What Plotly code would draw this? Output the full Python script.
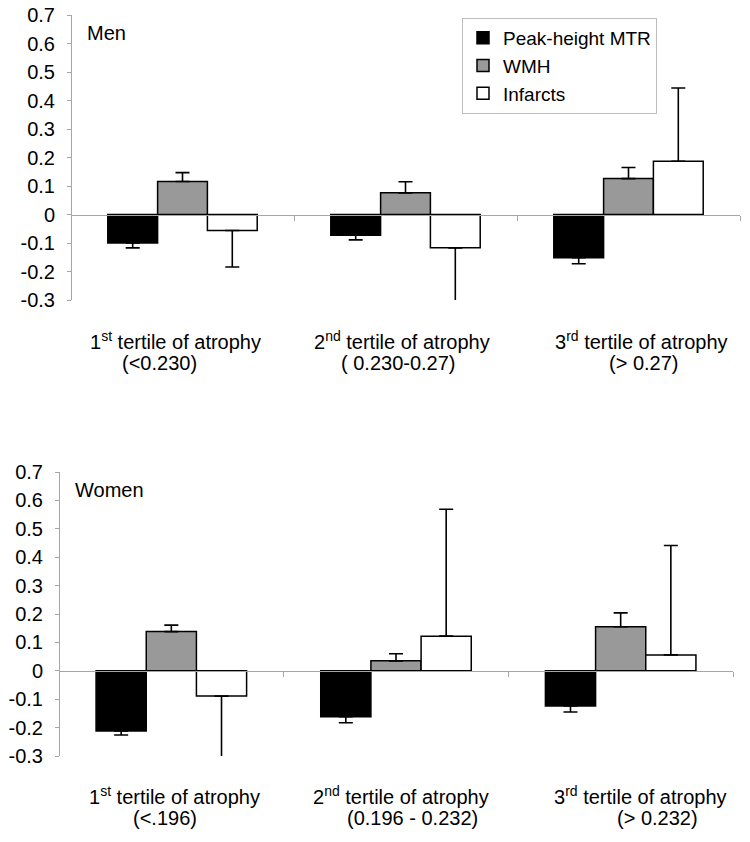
import plotly.graph_objects as go

W, H = 750, 842

# ---------------- data ----------------
series_names = ["Peak-height MTR", "WMH", "Infarcts"]
series_colors = ["#000000", "#999999", "#ffffff"]

cat_line1 = ["1<sup>st</sup> tertile of atrophy",
             "2<sup>nd</sup> tertile of atrophy",
             "3<sup>rd</sup> tertile of atrophy"]
men_ranges = ["(<0.230)", "( 0.230-0.27)", "(> 0.27)"]
women_ranges = ["(<.196)", "(0.196 - 0.232)", "(> 0.232)"]

men_mtr = [-0.100, -0.073, -0.152]
men_mtr_err = [0.017, 0.016, 0.021]
men_wmh = [0.116, 0.076, 0.126]
men_wmh_err = [0.031, 0.039, 0.039]
men_inf = [-0.056, -0.117, 0.187]
men_inf_err = [0.128, 0.199, 0.257]

women_mtr = [-0.212, -0.162, -0.124]
women_mtr_err = [0.014, 0.021, 0.021]
women_wmh = [0.138, 0.035, 0.155]
women_wmh_err = [0.023, 0.025, 0.049]
women_inf = [-0.089, 0.122, 0.056]
women_inf_err = [0.219, 0.447, 0.385]

yticks = [-0.3, -0.2, -0.1, 0, 0.1, 0.2, 0.3, 0.4, 0.5, 0.6, 0.7]
ytick_text = ["-0.3", "-0.2", "-0.1", "0", "0.1", "0.2", "0.3", "0.4", "0.5", "0.6", "0.7"]

FONT = "Liberation Sans, Arial, sans-serif"
FS = 20
LFS = 19

fig = go.Figure()

panels = [
    dict(xa="x", ya="y", vals=[men_mtr, men_wmh, men_inf],
         errs=[men_mtr_err, men_wmh_err, men_inf_err], legend=True),
    dict(xa="x2", ya="y2", vals=[women_mtr, women_wmh, women_inf],
         errs=[women_mtr_err, women_wmh_err, women_inf_err], legend=False),
]

xpos = list(range(len(cat_line1)))

for p in panels:
    for k in range(3):
        v = p["vals"][k]
        e = p["errs"][k]
        plus = [ee if vv >= 0 else 0 for vv, ee in zip(v, e)]
        minus = [ee if vv < 0 else 0 for vv, ee in zip(v, e)]
        fig.add_trace(go.Bar(
            x=xpos, y=v, name=series_names[k],
            xaxis=p["xa"], yaxis=p["ya"],
            marker=dict(color=series_colors[k], line=dict(color="#000000", width=1.5)),
            error_y=dict(type="data", symmetric=False, array=plus, arrayminus=minus,
                         color="#000000", thickness=1.6, width=7),
            showlegend=p["legend"], legendgroup=series_names[k],
        ))

def py(px):
    return 1 - px / H

top_dom_y = [py(300), py(15)]
bot_dom_y = [py(756), py(472)]
top_dom_x = [71 / W, 740 / W]
bot_dom_x = [59 / W, 733 / W]
yr = [-0.3, 0.7]

def zero_pos(dom):
    return dom[0] + (0 - yr[0]) / (yr[1] - yr[0]) * (dom[1] - dom[0])

axis_gray = "#a6a6a6"

def xaxis(dom_x, dom_y):
    return dict(domain=dom_x, range=[-0.5, 2.5], anchor="free", position=zero_pos(dom_y),
                showline=True, linecolor=axis_gray, linewidth=1,
                tickmode="array", tickvals=[0.5, 1.5, 2.5], ticks="outside",
                ticklen=5, tickcolor=axis_gray, showticklabels=False,
                showgrid=False, zeroline=False, fixedrange=True, automargin=False)

def yaxis(dom_x, dom_y):
    return dict(domain=dom_y, range=yr, anchor="free", position=dom_x[0],
                showline=True, linecolor=axis_gray, linewidth=1,
                tickmode="array", tickvals=yticks, ticktext=ytick_text,
                ticks="outside", ticklen=4, tickcolor=axis_gray,
                ticklabelstandoff=8,
                tickfont=dict(family=FONT, size=FS, color="#000000"),
                showgrid=False, zeroline=False, fixedrange=True, automargin=False)

fig.update_layout(
    width=W, height=H,
    margin=dict(l=0, r=0, t=0, b=0, autoexpand=False),
    paper_bgcolor="#ffffff", plot_bgcolor="#ffffff",
    barmode="group", bargap=0.33, bargroupgap=0,
    font=dict(family=FONT, size=FS, color="#000000"),
    xaxis=xaxis(top_dom_x, top_dom_y),
    yaxis=yaxis(top_dom_x, top_dom_y),
    xaxis2=xaxis(bot_dom_x, bot_dom_y),
    yaxis2=yaxis(bot_dom_x, bot_dom_y),
    legend=dict(x=462 / W, y=py(18), xanchor="left", yanchor="top",
                bgcolor="#ffffff", bordercolor="#bdbdbd", borderwidth=1,
                font=dict(family=FONT, size=LFS, color="#000000"),
                tracegroupgap=11, traceorder="normal"),
    showlegend=True,
)

ann = []
# panel labels
ann.append(dict(text="Men", xref="paper", yref="paper", x=85 / W, y=py(33),
                xanchor="left", yanchor="middle", showarrow=False,
                font=dict(family=FONT, size=FS)))
ann.append(dict(text="Women", xref="paper", yref="paper", x=73 / W, y=py(490),
                xanchor="left", yanchor="middle", showarrow=False,
                font=dict(family=FONT, size=FS)))

# category labels
top_shift1 = [-7, -4, 13]
top_shift2 = [-23, -7, 15]
bot_shift1 = [3, 5, 20]
bot_shift2 = [-6, 16, 37]
for i in xpos:
    ann.append(dict(text=cat_line1[i], xref="x", yref="paper", x=i, y=py(340),
                    xshift=top_shift1[i], xanchor="center", yanchor="middle",
                    showarrow=False, font=dict(family=FONT, size=FS)))
    ann.append(dict(text=men_ranges[i], xref="x", yref="paper", x=i, y=py(363),
                    xshift=top_shift2[i], xanchor="center", yanchor="middle",
                    showarrow=False, font=dict(family=FONT, size=FS)))
    ann.append(dict(text=cat_line1[i], xref="x2", yref="paper", x=i, y=py(795),
                    xshift=bot_shift1[i], xanchor="center", yanchor="middle",
                    showarrow=False, font=dict(family=FONT, size=FS)))
    ann.append(dict(text=women_ranges[i], xref="x2", yref="paper", x=i, y=py(818),
                    xshift=bot_shift2[i], xanchor="center", yanchor="middle",
                    showarrow=False, font=dict(family=FONT, size=FS)))

fig.update_layout(annotations=ann)

fig.write_html("out.html", config={"displayModeBar": False},
               post_script="document.body.style.margin='0';")
